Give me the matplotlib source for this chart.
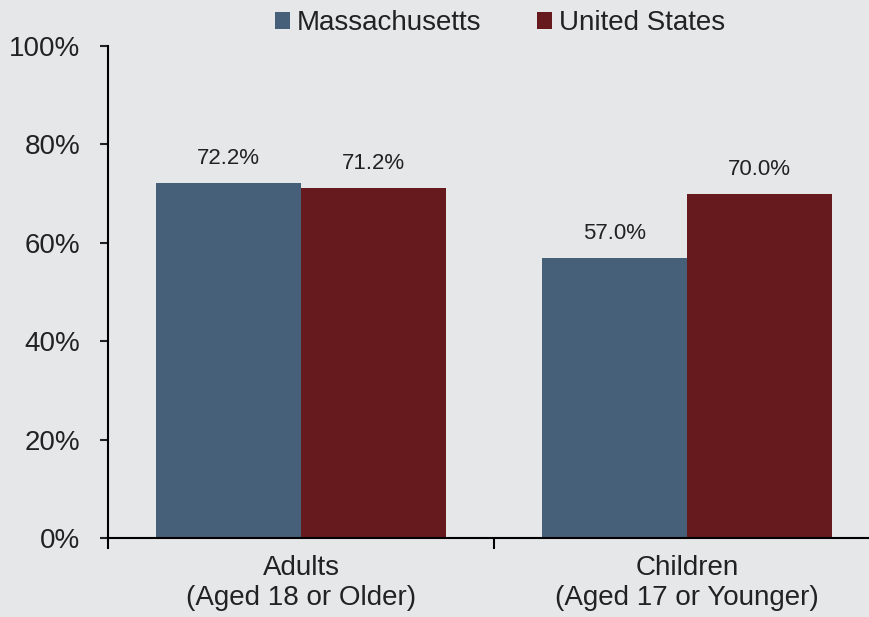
import matplotlib.pyplot as plt
import numpy as np

# chart data
categories = ['Adults\n(Aged 18 or Older)', 'Children\n(Aged 17 or Younger)']
series_names = ['Massachusetts', 'United States']
massachusetts = [72.2, 57.0]
united_states = [71.2, 70.0]
yticks = [0, 20, 40, 60, 80, 100]

bg = '#E6E7E9'
colors = ['#476079', '#661A1E']

plt.rcParams['font.family'] = ['Liberation Sans', 'DejaVu Sans']

fig = plt.figure(figsize=(8.69, 6.17), dpi=100, facecolor=bg)
# axes runs slightly past the right edge, like the original
ax = fig.add_axes([108/869, 1-538/617, (880-108)/869, (538-46)/617])
ax.set_facecolor(bg)

x = np.arange(len(categories))
w = 0.375
b1 = ax.bar(x - w/2, massachusetts, w, color=colors[0], label=series_names[0])
b2 = ax.bar(x + w/2, united_states, w, color=colors[1], label=series_names[1])

for bars, vals in [(b1, massachusetts), (b2, united_states)]:
    for r, v in zip(bars, vals):
        ax.annotate('%.1f%%' % v, (r.get_x() + r.get_width()/2, v),
                    xytext=(0, 10), textcoords='offset points',
                    ha='center', va='bottom', fontsize=16, color='#222222')

ax.set_xlim(-0.5, 1.5)
ax.set_ylim(0, 100)
ax.set_yticks(yticks)
ax.set_yticklabels(['%d%%' % t for t in yticks])
ax.tick_params(axis='y', direction='out', length=6, width=1.5, pad=14,
               labelsize=20, colors='#222222')
ax.set_xticks(x)
ax.set_xticklabels(categories)
ax.set_xticks([-0.5, 0.5, 1.5], minor=True)
ax.tick_params(axis='x', which='major', length=0, pad=12, labelsize=20,
               colors='#222222')
ax.tick_params(axis='x', which='minor', direction='out', length=8, width=1.5)

for s in ['top', 'right']:
    ax.spines[s].set_visible(False)
for s in ['left', 'bottom']:
    ax.spines[s].set_linewidth(1.5)
    ax.spines[s].set_color('black')

fig.legend(loc='center', bbox_to_anchor=(500/869, 1-23/617), ncol=2,
           frameon=False, fontsize=20, handlelength=0.55, handleheight=0.55,
           handletextpad=0.25, columnspacing=2.0, labelcolor='#222222')

plt.savefig('out.png', dpi=100, facecolor=bg)
